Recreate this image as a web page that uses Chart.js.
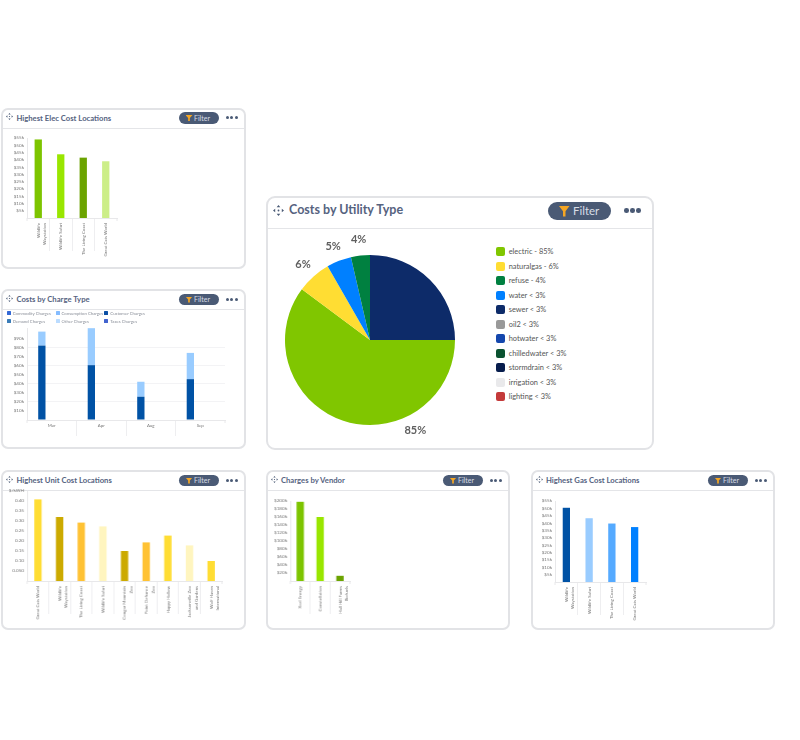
<!DOCTYPE html>
<html>
<head>
<meta charset="utf-8">
<script src="https://cdn.jsdelivr.net/npm/chart.js@4"></script>
<style>
    html, body { margin: 0; background: #fff; font-family: Lato, sans-serif; }
    body { position: relative; width: 800px; height: 740px; overflow: hidden; }
    canvas { position: absolute; }
    .card { position: absolute; box-sizing: border-box; background: #fff; border: 2px solid #e2e3e6; border-radius: 7px; }
    .head { position: absolute; left: 0; right: 0; top: 0; border-bottom: 1px solid #e4e5e8; }
    .title { position: absolute; color: #56637f; font-weight: 700; white-space: nowrap; }
    .move { position: absolute; }
    .move svg { display: block; }
    .pill { position: absolute; background: #4a5a75; color: #d8dde6; border-radius: 10px; }
    .pill span { position: absolute; top: 0; bottom: 0; display: flex; align-items: center; }
    .funnel { position: absolute; background: #f5a623; clip-path: polygon(0 0, 100% 0, 62% 50%, 62% 100%, 38% 100%, 38% 50%); }
    .dots { position: absolute; display: flex; justify-content: space-between; }
    .dots i { display: block; background: #4a5a75; border-radius: 50%; }
    .swatch { position: absolute; border-radius: 2px; }
    .key { position: absolute; white-space: nowrap; display: flex; align-items: center; }
</style>
</head>
<body>
<script>
// chart data
const elecLocations = [['Wildlife', 'Waystation'], 'Wildlife Safari', 'The Living Coast', 'Great Cats World']
const elecCosts = [54, 43.8, 41.5, 39]
const elecColors = ['#7dc400', '#99e600', '#6ba300', '#ccee88']
const elecTicks = ['', '$5k', '$10k', '$15k', '$20k', '$25k', '$30k', '$35k', '$40k', '$45k', '$50k', '$55k']

const chargeMonths = ['Mar', 'Apr', 'Aug', 'Sep']
const customerCharges = [82.5, 60.8, 25.8, 45.3]
const consumptionCharges = [15.5, 41, 16.6, 29.1]
const chargeTicks = ['', '$10k', '$20k', '$30k', '$40k', '$50k', '$60k', '$70k', '$80k', '$90k']
const chargeNames = ['Commodity Charges', 'Consumption Charges', 'Customer Charges', 'Demand Charges', 'Other Charges', 'Taxes Charges']
const chargeColors = ['#3368d6', '#85bcff', '#0b4fa5', '#3a7cb8', '#bbdcff', '#4263cf']

const unitLocations = ['Great Cats World', ['Wildlife', 'Waystation'], 'The Living Coast', 'Wildlife Safari', ['Cougar Mountain', 'Zoo'], ['Point Defiance', 'Zoo'], 'Happy Hollow', ['Jacksonville Zoo', 'and Gardens'], ['Wolf Haven', 'International']]
const unitCosts = [0.408, 0.32, 0.292, 0.273, 0.15, 0.193, 0.227, 0.178, 0.1]
const unitColors = ['#ffdd33', '#ccaa00', '#ffc233', '#fff5bf', '#ccaa00', '#ffc233', '#ffdd33', '#fff5bf', '#ffdd33']
const unitTicks = ['', '0.050', '0.10', '0.15', '0.20', '0.25', '0.30', '0.35', '0.40', '$/kWH']

const vendors = ['Xcel Energy', 'Constellation', ['Hall Hill Farms', 'Biofuels']]
const vendorCharges = [198, 160, 13]
const vendorColors = ['#7dc400', '#99e600', '#6ba300']
const vendorTicks = ['', '$20k', '$40k', '$60k', '$80k', '$100k', '$120k', '$140k', '$160k', '$180k', '$200k']

const gasLocations = [['Wildlife', 'Waystation'], 'Wildlife Safari', 'The Living Coast', 'Great Cats World']
const gasCosts = [50.4, 43.3, 39.7, 37.3]
const gasColors = ['#0052a5', '#99ccff', '#55aaff', '#0080ff']
const gasTicks = elecTicks

// sewer is drawn first: the picture shows it as a quarter lying over electric
const utilitySlices = ['sewer', 'electric', 'naturalgas', 'water', 'refuse']
const utilityValues = [25, 60.2, 6.5, 4.7, 3.6]
const utilitySliceColors = ['#0d2b69', '#80c600', '#ffdd33', '#0080ff', '#008040']
const utilitySliceLabels = ['', '85%', '6%', '5%', '4%']
const utilityLegend = ['electric - 85%', 'naturalgas - 6%', 'refuse - 4%', 'water < 3%', 'sewer < 3%', 'oil2 < 3%', 'hotwater < 3%', 'chilledwater < 3%', 'stormdrain < 3%', 'irrigation < 3%', 'lighting < 3%']
const utilityLegendColors = ['#80c600', '#ffdd33', '#008040', '#0080ff', '#0d2b69', '#999999', '#1447ad', '#0a5230', '#071d4d', '#e9e9eb', '#c43a3a']

function el(parent, cls, css){
    const d = document.createElement('div')
    d.className = cls
    Object.assign(d.style, css)
    parent.appendChild(d)
    return d
}

function px(n){ return n + 'px' }

function makeCard(left, top, right, bottom, title, big){
    const s = big ? {head: 30, tx: 21, fs: 12.5, ty: -3, pr: 41, pw: 63, pt: 4.5, ph: 17.5, fl: 11, fw: 10.5, ftop: 4, fh: 10.5, text: 25, tfs: 11.5, dr: 11, dw: 17, dsize: 4.6, iw: 11, iy: -2.5} :
                    {head: 18, tx: 13.4, fs: 7.7, ty: -1, pr: 25.5, pw: 40, pt: 2.5, ph: 11.5, fl: 7, fw: 7, ftop: 3, fh: 6, text: 15.5, tfs: 7, dr: 6.5, dw: 11.5, dsize: 3, iw: 7, iy: -2}
    const card = el(document.body, 'card', {left: px(left), top: px(top), width: px(right - left), height: px(bottom - top), borderRadius: big ? '9px' : '7px'})
    el(card, 'head', {height: px(s.head)})
    const t = el(card, 'title', {left: px(s.tx), top: px(s.ty), height: px(s.head), lineHeight: px(s.head), fontSize: px(s.fs)})
    t.textContent = title
    const ic = el(card, 'move', {left: px(big ? 5 : 3), top: px((s.head - s.iw) / 2 + s.iy), width: px(s.iw), height: px(s.iw)})
    ic.innerHTML = `<svg viewBox="0 0 12 12" width="${s.iw}" height="${s.iw}" fill="#4a5a75"><path d="M6 0l2 2.4H4zM6 12l2-2.4H4zM0 6l2.4-2v4zM12 6l-2.4-2v4z"/><circle cx="6" cy="6" r="1"/></svg>`
    const pill = el(card, 'pill', {right: px(s.pr), top: px(s.pt), width: px(s.pw), height: px(s.ph)})
    el(pill, 'funnel', {left: px(s.fl), top: px(s.ftop), width: px(s.fw), height: px(s.fh)})
    const label = document.createElement('span')
    label.textContent = 'Filter'
    label.style.left = px(s.text)
    label.style.fontSize = px(s.tfs)
    pill.appendChild(label)
    const dots = el(card, 'dots', {right: px(s.dr), top: px((big ? 14 : 9) - s.dsize / 2 - 1), width: px(s.dw)})
    for(let i = 0; i < 3; i++){
        el(dots, '', {}).outerHTML = `<i style="width:${s.dsize}px;height:${s.dsize}px"></i>`
    }
}

function makeCanvas(left, top, width, height){
    const c = document.createElement('canvas')
    c.width = width
    c.height = height
    c.style.left = px(left)
    c.style.top = px(top)
    c.style.width = px(width)
    c.style.height = px(height)
    document.body.appendChild(c)
    return c
}

// short ticks at both ends of the category axis
const edgeTicks = {
    id: 'edgeTicks',
    afterDraw(chart){
        const {ctx, chartArea: a} = chart
        ctx.save()
        ctx.strokeStyle = '#e8e8ea'
        ctx.lineWidth = 1
        ctx.beginPath()
        for(const x of [a.left, a.right]){
            ctx.moveTo(x, a.bottom)
            ctx.lineTo(x, a.bottom + 3)
        }
        ctx.stroke()
        ctx.restore()
    }
}

function barChart(plot, labels, datasets, tickLabels, yMax, yStep, opts = {}){
    const pad = {left: 25, top: 8, right: 6, bottom: 50}
    const tickLen = opts.tickLen || 33
    const canvas = makeCanvas(plot.left - pad.left, plot.top - pad.top, plot.right - plot.left + pad.left + pad.right, plot.bottom - plot.top + pad.top + pad.bottom)
    return new Chart(canvas, {
        type: 'bar',
        data: {labels: labels, datasets: datasets},
        plugins: [edgeTicks],
        options: {
            responsive: false,
            animation: false,
            layout: {padding: {top: pad.top, right: pad.right}},
            plugins: {legend: {display: false}},
            scales: {
                x: {
                    stacked: !!opts.stacked,
                    afterFit: scale => { scale.height = pad.bottom },
                    border: {color: '#e8e8ea'},
                    grid: {
                        offset: true,
                        drawOnChartArea: false,
                        tickLength: tickLen,
                        tickColor: ctx => (ctx.type === 'tick' && ctx.index > 0 ? '#eeeef0' : 'transparent')
                    },
                    ticks: {
                        autoSkip: false,
                        minRotation: opts.flat ? 0 : 90,
                        maxRotation: opts.flat ? 0 : 90,
                        padding: (opts.flat ? 2 : 5) - tickLen,
                        color: '#777',
                        font: {family: 'Lato', size: 4.4, lineHeight: 1.5}
                    }
                },
                y: {
                    stacked: !!opts.stacked,
                    min: 0,
                    max: yMax,
                    afterFit: scale => { scale.width = pad.left },
                    border: {color: '#e8e8ea'},
                    grid: {
                        drawTicks: false,
                        display: !!opts.grid,
                        color: ctx => (ctx.tick.value > 0 && ctx.tick.value % 20 === 0 ? '#f3f3f5' : 'transparent')
                    },
                    ticks: {
                        stepSize: yStep,
                        autoSkip: false,
                        padding: 3,
                        color: '#777',
                        font: {family: 'Lato', size: 4.6},
                        callback: (value, index) => tickLabels[index] ?? ''
                    }
                }
            }
        }
    })
}

function singleSeries(values, colors){
    return [{data: values, backgroundColor: colors, maxBarThickness: 7.3}]
}

// the cards
makeCard(1, 107.5, 246, 268.5, 'Highest Elec Cost Locations')
makeCard(1, 289, 246, 449, 'Costs by Charge Type')
makeCard(1, 470, 246, 630, 'Highest Unit Cost Locations')
makeCard(265.5, 470, 510, 630, 'Charges by Vendor')
makeCard(530.5, 470, 775, 630, 'Highest Gas Cost Locations')
makeCard(266, 195.5, 654, 449.5, 'Costs by Utility Type', true)

barChart({left: 27, right: 117, top: 138, bottom: 218}, elecLocations, singleSeries(elecCosts, elecColors), elecTicks, 55, 5)

// only two of the charge types have values, the others keep an empty stack beside them
const chargeSets = chargeNames.map((name, i) => ({
    label: name,
    backgroundColor: chargeColors[i],
    maxBarThickness: 7.3,
    stack: name === 'Customer Charges' || name === 'Consumption Charges' ? 'billed' : 'other',
    data: name === 'Customer Charges' ? customerCharges : name === 'Consumption Charges' ? consumptionCharges : []
}))
chargeSets[1].backgroundColor = '#99ccff'
chargeSets[2].backgroundColor = '#0052a5'
const drawOrder = [chargeSets[2], chargeSets[1], chargeSets[0], chargeSets[3], chargeSets[4], chargeSets[5]]
barChart({left: 27, right: 225, top: 327.7, bottom: 419.7}, chargeMonths, drawOrder, chargeTicks, 102, 10, {stacked: true, flat: true, tickLen: 16, grid: true})

chargeNames.forEach((name, i) => {
    const x = 6.7 + (i % 3) * 48.8
    const y = 313 + Math.floor(i / 3) * 8.3
    el(document.body, 'swatch', {left: px(x), top: px(y - 2), width: '4px', height: '4px', borderRadius: '0.5px', background: chargeColors[i]})
    const k = el(document.body, 'key', {left: px(x + 6), top: px(y - 4), height: '8px', fontSize: '4.3px', color: '#8a8f99'})
    k.textContent = name
})

barChart({left: 27, right: 221.7, top: 490.7, bottom: 580.7}, unitLocations, singleSeries(unitCosts, unitColors), unitTicks, 0.45, 0.05)
barChart({left: 290.3, right: 349.7, top: 501, bottom: 581}, vendors, singleSeries(vendorCharges, vendorColors), vendorTicks, 200, 20)
barChart({left: 555.3, right: 646.3, top: 501, bottom: 582.4}, gasLocations, singleSeries(gasCosts, gasColors), gasTicks, 55, 5)

// percent labels outside the pie
const sliceLabels = {
    id: 'sliceLabels',
    afterDraw(chart){
        const {ctx} = chart
        const arcs = chart.getDatasetMeta(0).data
        ctx.save()
        ctx.font = '700 11px Lato'
        ctx.fillStyle = '#5f5f5f'
        ctx.textAlign = 'center'
        ctx.textBaseline = 'middle'
        arcs.forEach((arc, i) => {
            if(!utilitySliceLabels[i]) return
            // electric is really 85%, so its label centres on the part hidden under sewer too
            const from = utilitySlices[i] === 'electric' ? arcs[0].startAngle : arc.startAngle
            const angle = (from + arc.endAngle) / 2
            const r = arc.outerRadius + 16
            ctx.fillText(utilitySliceLabels[i], arc.x + Math.cos(angle) * r, arc.y + Math.sin(angle) * r)
        })
        ctx.restore()
    }
}

new Chart(makeCanvas(270, 232, 200, 216), {
    type: 'pie',
    data: {
        labels: utilitySlices,
        datasets: [{data: utilityValues, backgroundColor: utilitySliceColors, borderWidth: 0}]
    },
    plugins: [sliceLabels],
    options: {
        responsive: false,
        animation: false,
        layout: {padding: {top: 23, bottom: 23, left: 15, right: 15}},
        plugins: {legend: {display: false}}
    }
})

utilityLegend.forEach((name, i) => {
    const y = 251.7 + i * 14.5
    el(document.body, 'swatch', {left: '496px', top: px(y - 4.5), width: '9px', height: '9px', background: utilityLegendColors[i]})
    const k = el(document.body, 'key', {left: '508.7px', top: px(y - 6), height: '12px', fontSize: '7.4px', color: '#555'})
    k.textContent = name
})
</script>
</body>
</html>
